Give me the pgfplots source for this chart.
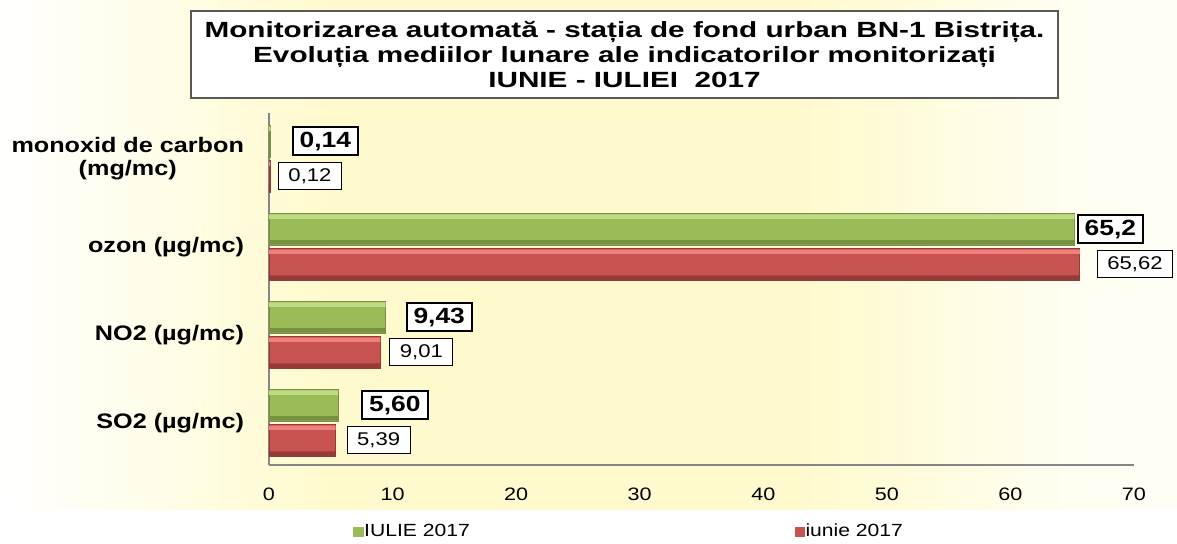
\documentclass[border=0pt]{standalone}
\usepackage{pgfplots}
\pgfplotsset{compat=1.18}
\usepackage{pgfplotstable}
\usepackage{fontspec}
\setmainfont{Liberation Sans}[FakeStretch=1.2]
\newfontfamily\titlefont{Liberation Sans}[FakeStretch=1.35]

\definecolor{gbase}{RGB}{155,187,89}
\definecolor{glight}{RGB}{190,218,130}
\definecolor{gdark}{RGB}{118,145,64}
\definecolor{rbase}{RGB}{200,84,81}
\definecolor{rlight}{RGB}{240,128,124}
\definecolor{rdark}{RGB}{150,58,56}
\definecolor{bgy}{RGB}{255,250,205}
\definecolor{axgray}{RGB}{134,134,134}

% page background: white at the left, pale yellow in the middle, almost white at the right
\pgfdeclarehorizontalshading{bgshade}{100bp}{color(0bp)=(white); color(25bp)=(white); color(33bp)=(bgy!55!white); color(39bp)=(bgy); color(59bp)=(bgy); color(70bp)=(bgy!30!white); color(75bp)=(bgy!18!white); color(100bp)=(bgy!18!white)}

% pos: 0 SO2, 1 NO2, 2 ozon, 3 CO ; off = gap to the label box (pt)
\pgfplotstableread{
pos val lbl off
0 5.60 5,60 11.5
1 9.43 9,43 10
2 65.2 65,2 1
3 0.14 0,14 10.5
}\iulie
\pgfplotstableread{
pos val lbl off
0 5.39 5,39 5.5
1 9.01 9,01 4.5
2 65.62 65,62 8.5
3 0.12 0,12 3.75
}\iunie

\begin{document}
\begin{tikzpicture}
\path[shading=bgshade] (0pt,17pt) rectangle (588.5pt,272pt);

\begin{axis}[
  at={(134.5pt,39.5pt)}, anchor=south west, scale only axis,
  width=432.5pt, height=176pt,
  xbar, bar width=0.364,
  xmin=0, xmax=70, ymin=-0.48, ymax=3.52,
  xtick={0,10,...,70}, ytick={0,1,2,3},
  yticklabels={SO2 (µg/mc), NO2 (µg/mc), ozon (µg/mc), {monoxid de carbon\\(mg/mc)}},
  axis x line*=bottom, axis y line*=left,
  axis line style={axgray, line width=0.6pt, -},
  major tick length=0pt,
  tick label style={font=\fontsize{9}{10}\selectfont},
  yticklabel style={font=\fontsize{10.5}{11.5}\selectfont\bfseries, align=center, xshift=-9pt},
  xticklabel style={yshift=-8pt},
  /pgf/number format/assume math mode=true,
  clip=false,
  legend style={at={(axis description cs:0.09,-0.19)}, anchor=west, draw=none, fill=none,
    font=\fontsize{8.8}{10}\selectfont, legend columns=2,
    /tikz/every even column/.append style={column sep=162pt},
    nodes={inner xsep=0.3pt}},
  legend cell align=left,
  legend image code/.code={\path[#1,draw=none] (0pt,-2.6pt) rectangle (5.2pt,2.6pt);},
]
% IULIE 2017
\addplot[fill=gbase, draw=gdark, line width=0.4pt, bar shift=0.2,
  nodes near coords, point meta=explicit symbolic,
  visualization depends on={\thisrow{off}\as\labeloff},
  every node near coord/.append style={anchor=west, xshift=\labeloff pt,
    font=\fontsize{11}{12}\selectfont\bfseries, draw=black, line width=1pt,
    fill=white, inner xsep=3.5pt, inner ysep=0pt, minimum height=14pt}]
  table[x=val, y=pos, meta=lbl] {\iulie};
\addlegendentry{IULIE 2017}
% iunie 2017
\addplot[fill=rbase, draw=rdark, line width=0.4pt, bar shift=-0.2,
  nodes near coords, point meta=explicit symbolic,
  visualization depends on={\thisrow{off}\as\labeloff},
  every node near coord/.append style={anchor=west, xshift=\labeloff pt,
    font=\fontsize{9.2}{11}\selectfont, draw=black, line width=0.5pt,
    fill=white, inner xsep=5pt, inner ysep=0pt, minimum height=13.5pt}]
  table[x=val, y=pos, meta=lbl] {\iunie};
\addlegendentry{iunie 2017}
% bevel strips (light top edge, dark bottom edge)
\addplot[forget plot, fill=glight, draw=none, bar width=0.05, bar shift=0.343] table[x=val, y=pos] {\iulie};
\addplot[forget plot, fill=gdark, draw=none, bar width=0.05, bar shift=0.05] table[x=val, y=pos] {\iulie};
\addplot[forget plot, fill=rlight, draw=none, bar width=0.05, bar shift=-0.057] table[x=val, y=pos] {\iunie};
\addplot[forget plot, fill=rdark, draw=none, bar width=0.05, bar shift=-0.35] table[x=val, y=pos] {\iunie};
\end{axis}

\draw[draw=gray!70!black, line width=1pt, fill=white] (95.5pt,223pt) rectangle (529pt,266.5pt);
\node[align=center, font=\titlefont\bfseries\fontsize{11}{12.5}\selectfont] at (312.25pt,244.75pt)
  {Monitorizarea automată - stația de fond urban BN-1 Bistrița.\\
   Evoluția mediilor lunare ale indicatorilor monitorizați\\
   IUNIE - IULIEI\ \ 2017};

\pgfresetboundingbox
\useasboundingbox (0pt,0pt) rectangle (588.5pt,272pt);
\end{tikzpicture}
\end{document}
